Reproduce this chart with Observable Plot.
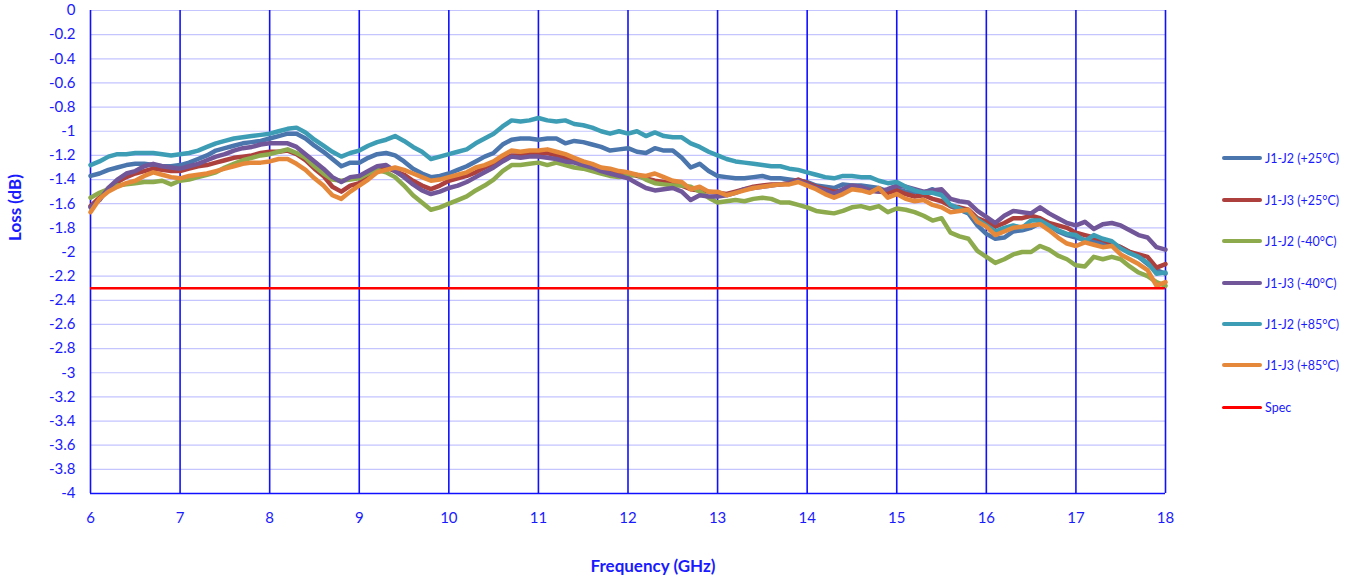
<!DOCTYPE html>
<html>
<head>
<meta charset="utf-8">
<script src="https://cdn.jsdelivr.net/npm/d3@7"></script>
<script src="https://cdn.jsdelivr.net/npm/@observablehq/plot@0.6"></script>
<style>
  body { margin: 0; background: #fff; }
  #wrap { position: relative; width: 1356px; height: 580px; font-family: Lato, "Open Sans", sans-serif; }
  #legend { position: absolute; left: 1222px; top: 0; }
  .li { position: absolute; left: 0; width: 140px; height: 16px; display: flex; align-items: center; white-space: nowrap; font-size: 12.5px; color: #1a1aff; }
  .sw { width: 40px; height: 4px; border-radius: 2px; margin-right: 3px; }
</style>
</head>
<body>
<div id="wrap"><div id="legend"></div></div>
<script>
const freq = d3.range(0, 121).map(i => +(6 + i * 0.1).toFixed(1));

const seriesNames = ["J1-J2 (+25°C)", "J1-J3 (+25°C)", "J1-J2 (-40°C)", "J1-J3 (-40°C)", "J1-J2 (+85°C)", "J1-J3 (+85°C)"];
const seriesColors = ["#4a76ad", "#ad403d", "#8dab4c", "#71579a", "#3d9db5", "#e6883a"];
const specName = "Spec";
const specColor = "#ff0000";
const specValue = -2.3;

const j1j2_25 = [-1.37,-1.35,-1.32,-1.30,-1.28,-1.27,-1.27,-1.28,-1.29,-1.29,
-1.28,-1.26,-1.23,-1.20,-1.16,-1.14,-1.12,-1.10,-1.09,-1.08,
-1.06,-1.04,-1.02,-1.02,-1.06,-1.12,-1.17,-1.23,-1.29,-1.26,
-1.26,-1.22,-1.19,-1.18,-1.20,-1.25,-1.31,-1.35,-1.38,-1.37,
-1.35,-1.32,-1.29,-1.25,-1.21,-1.18,-1.11,-1.07,-1.06,-1.06,
-1.07,-1.06,-1.06,-1.10,-1.08,-1.09,-1.11,-1.13,-1.16,-1.15,
-1.14,-1.17,-1.18,-1.14,-1.16,-1.16,-1.22,-1.30,-1.27,-1.33,
-1.37,-1.38,-1.39,-1.39,-1.38,-1.37,-1.39,-1.39,-1.40,-1.41,
-1.42,-1.45,-1.46,-1.47,-1.44,-1.45,-1.45,-1.46,-1.47,-1.50,
-1.48,-1.50,-1.50,-1.51,-1.48,-1.52,-1.62,-1.65,-1.68,-1.78,
-1.85,-1.89,-1.88,-1.83,-1.82,-1.80,-1.76,-1.78,-1.83,-1.86,
-1.88,-1.90,-1.91,-1.93,-1.94,-1.96,-2.00,-2.04,-2.10,-2.15,-2.18];

const j1j3_25 = [-1.62,-1.55,-1.47,-1.42,-1.38,-1.35,-1.33,-1.31,-1.32,-1.33,
-1.33,-1.31,-1.29,-1.28,-1.26,-1.24,-1.22,-1.21,-1.20,-1.18,
-1.17,-1.17,-1.16,-1.19,-1.24,-1.31,-1.37,-1.46,-1.50,-1.45,
-1.43,-1.38,-1.32,-1.30,-1.33,-1.36,-1.41,-1.45,-1.48,-1.45,
-1.41,-1.39,-1.37,-1.34,-1.30,-1.27,-1.23,-1.20,-1.20,-1.19,
-1.19,-1.18,-1.20,-1.22,-1.24,-1.26,-1.28,-1.31,-1.32,-1.34,
-1.35,-1.37,-1.39,-1.41,-1.42,-1.43,-1.45,-1.48,-1.49,-1.50,
-1.51,-1.52,-1.50,-1.48,-1.46,-1.45,-1.44,-1.44,-1.43,-1.40,
-1.43,-1.46,-1.48,-1.50,-1.49,-1.47,-1.47,-1.49,-1.50,-1.51,
-1.49,-1.52,-1.54,-1.53,-1.56,-1.58,-1.62,-1.63,-1.65,-1.72,
-1.75,-1.79,-1.76,-1.72,-1.72,-1.70,-1.72,-1.76,-1.78,-1.80,
-1.84,-1.86,-1.88,-1.90,-1.93,-1.96,-2.00,-2.02,-2.04,-2.13,-2.10];

const j1j2_m40 = [-1.55,-1.51,-1.48,-1.45,-1.44,-1.43,-1.42,-1.42,-1.41,-1.44,
-1.41,-1.40,-1.38,-1.36,-1.34,-1.30,-1.27,-1.24,-1.22,-1.20,
-1.19,-1.17,-1.15,-1.18,-1.22,-1.29,-1.35,-1.40,-1.41,-1.40,
-1.39,-1.35,-1.32,-1.34,-1.38,-1.45,-1.53,-1.59,-1.65,-1.63,
-1.60,-1.57,-1.54,-1.49,-1.45,-1.40,-1.33,-1.28,-1.28,-1.27,
-1.26,-1.28,-1.26,-1.28,-1.30,-1.31,-1.33,-1.35,-1.37,-1.38,
-1.37,-1.36,-1.40,-1.43,-1.44,-1.45,-1.45,-1.46,-1.50,-1.55,
-1.59,-1.58,-1.57,-1.58,-1.56,-1.55,-1.56,-1.59,-1.59,-1.61,
-1.63,-1.66,-1.67,-1.68,-1.66,-1.63,-1.62,-1.64,-1.62,-1.67,
-1.64,-1.65,-1.67,-1.70,-1.74,-1.72,-1.84,-1.87,-1.89,-1.99,
-2.04,-2.09,-2.06,-2.02,-2.00,-2.00,-1.95,-1.98,-2.03,-2.06,
-2.11,-2.12,-2.04,-2.06,-2.04,-2.06,-2.12,-2.17,-2.20,-2.25,-2.28];

const j1j3_m40 = [-1.63,-1.57,-1.47,-1.40,-1.35,-1.33,-1.29,-1.27,-1.29,-1.30,
-1.31,-1.29,-1.27,-1.24,-1.21,-1.19,-1.16,-1.14,-1.13,-1.11,
-1.10,-1.10,-1.10,-1.13,-1.19,-1.25,-1.31,-1.38,-1.42,-1.38,
-1.37,-1.33,-1.29,-1.28,-1.33,-1.38,-1.44,-1.49,-1.52,-1.50,
-1.47,-1.45,-1.42,-1.38,-1.34,-1.30,-1.25,-1.21,-1.22,-1.21,
-1.21,-1.22,-1.23,-1.25,-1.26,-1.28,-1.30,-1.33,-1.35,-1.37,
-1.39,-1.43,-1.47,-1.49,-1.48,-1.47,-1.50,-1.57,-1.53,-1.54,
-1.54,-1.53,-1.51,-1.48,-1.47,-1.46,-1.45,-1.44,-1.43,-1.41,
-1.44,-1.47,-1.49,-1.52,-1.48,-1.45,-1.46,-1.49,-1.50,-1.48,
-1.45,-1.46,-1.48,-1.50,-1.49,-1.48,-1.56,-1.58,-1.59,-1.66,
-1.71,-1.76,-1.70,-1.66,-1.67,-1.68,-1.63,-1.68,-1.72,-1.76,
-1.78,-1.75,-1.81,-1.77,-1.76,-1.78,-1.82,-1.86,-1.88,-1.96,-1.98];

const j1j2_85 = [-1.28,-1.25,-1.21,-1.19,-1.19,-1.18,-1.18,-1.18,-1.19,-1.20,
-1.19,-1.18,-1.16,-1.13,-1.10,-1.08,-1.06,-1.05,-1.04,-1.03,
-1.02,-1.00,-0.98,-0.97,-1.01,-1.07,-1.12,-1.17,-1.21,-1.18,
-1.16,-1.12,-1.09,-1.07,-1.04,-1.08,-1.13,-1.17,-1.23,-1.21,
-1.19,-1.17,-1.15,-1.10,-1.06,-1.02,-0.96,-0.91,-0.92,-0.91,
-0.89,-0.91,-0.92,-0.91,-0.94,-0.95,-0.97,-1.00,-1.02,-1.00,
-1.02,-1.00,-1.04,-1.01,-1.04,-1.05,-1.05,-1.10,-1.13,-1.17,
-1.20,-1.23,-1.25,-1.26,-1.27,-1.28,-1.29,-1.29,-1.31,-1.32,
-1.34,-1.36,-1.38,-1.39,-1.37,-1.37,-1.38,-1.38,-1.41,-1.43,
-1.42,-1.46,-1.49,-1.51,-1.51,-1.53,-1.61,-1.64,-1.67,-1.73,
-1.78,-1.83,-1.80,-1.78,-1.80,-1.74,-1.74,-1.78,-1.82,-1.85,
-1.86,-1.91,-1.86,-1.89,-1.91,-1.97,-2.01,-2.04,-2.09,-2.18,-2.17];

const j1j3_85 = [-1.67,-1.56,-1.50,-1.46,-1.43,-1.41,-1.37,-1.34,-1.36,-1.38,
-1.39,-1.37,-1.36,-1.35,-1.33,-1.31,-1.29,-1.27,-1.26,-1.26,
-1.25,-1.23,-1.23,-1.27,-1.32,-1.39,-1.45,-1.53,-1.56,-1.50,
-1.45,-1.40,-1.34,-1.32,-1.30,-1.32,-1.35,-1.38,-1.41,-1.40,
-1.38,-1.36,-1.34,-1.30,-1.28,-1.25,-1.20,-1.16,-1.17,-1.16,
-1.16,-1.15,-1.17,-1.19,-1.22,-1.25,-1.27,-1.30,-1.31,-1.33,
-1.34,-1.36,-1.37,-1.35,-1.38,-1.41,-1.42,-1.48,-1.46,-1.50,
-1.50,-1.53,-1.51,-1.49,-1.47,-1.46,-1.45,-1.44,-1.44,-1.42,
-1.45,-1.48,-1.52,-1.55,-1.52,-1.48,-1.49,-1.51,-1.47,-1.55,
-1.52,-1.56,-1.58,-1.57,-1.61,-1.63,-1.67,-1.66,-1.65,-1.75,
-1.79,-1.86,-1.83,-1.80,-1.79,-1.78,-1.77,-1.82,-1.88,-1.93,
-1.95,-1.92,-1.94,-1.96,-1.95,-2.02,-2.06,-2.10,-2.15,-2.28,-2.25];

const xTicks = [6,7,8,9,10,11,12,13,14,15,16,17,18];
const yTicks = d3.range(0, 21).map(i => +(-0.2 * i).toFixed(1));

const seriesValues = [j1j2_25, j1j3_25, j1j2_m40, j1j3_m40, j1j2_85, j1j3_85];
const rows = [];
seriesValues.forEach((vals, s) => vals.forEach((v, i) => rows.push({f: freq[i], v, s: seriesNames[s]})));

const blue = "#1a1aff";
const chart = Plot.plot({
  width: 1356,
  height: 580,
  marginLeft: 90,
  marginRight: 191,
  marginTop: 10,
  marginBottom: 87,
  style: {fontFamily: "Lato, 'Open Sans', sans-serif", fontSize: "15px", color: blue, background: "#fff"},
  x: {domain: [6, 18], ticks: xTicks, tickSize: 0, tickPadding: 19, label: null, tickFormat: d => String(d)},
  y: {domain: [-4, 0], ticks: yTicks, tickSize: 0, tickPadding: 15, label: null, tickFormat: d => String(d)},
  color: {domain: seriesNames, range: seriesColors},
  marks: [
    Plot.ruleY(yTicks, {stroke: "#c4c4ff", strokeWidth: 1.2}),
    Plot.ruleX(xTicks.slice(1), {stroke: "#1010ff", strokeWidth: 1.6}),
    Plot.ruleX([6], {stroke: "#1010ff", strokeWidth: 1.6}),
    Plot.ruleY([-4], {stroke: "#1010ff", strokeWidth: 1.6}),
    Plot.line(rows, {x: "f", y: "v", z: "s", stroke: "s", strokeWidth: 4.5, strokeLinejoin: "round", strokeLinecap: "round", curve: "linear"}),
    Plot.ruleY([specValue], {stroke: specColor, strokeWidth: 2.5}),
    Plot.axisX({ticks: xTicks, tickSize: 0, tickPadding: 19, tickFormat: d => String(d), label: null, fill: blue, fontSize: 15}),
    Plot.axisY({ticks: yTicks, tickSize: 0, tickPadding: 15, tickFormat: d => String(d), label: null, fill: blue, fontSize: 15}),
    Plot.text(["Frequency (GHz)"], {frameAnchor: "bottom", dx: 25, dy: 78, fontWeight: "bold", fontSize: 17, fill: blue}),
    Plot.text(["Loss (dB)"], {frameAnchor: "left", dx: -75, dy: -11, rotate: -90, fontWeight: "bold", fontSize: 17, fill: blue})
  ]
});
document.getElementById("wrap").prepend(chart);

const legend = document.getElementById("legend");
const legendItems = seriesNames.map((n, i) => ({name: n, color: seriesColors[i], w: 4})).concat([{name: specName, color: specColor, w: 3}]);
const legendY = [158, 200, 241, 283, 324, 365, 407];
legendItems.forEach((it, i) => {
  const d = document.createElement("div");
  d.className = "li";
  d.style.top = (legendY[i] - 8) + "px";
  d.innerHTML = `<span class="sw" style="background:${it.color};height:${it.w}px"></span><span>${it.name}</span>`;
  legend.appendChild(d);
});
</script>
</body>
</html>
